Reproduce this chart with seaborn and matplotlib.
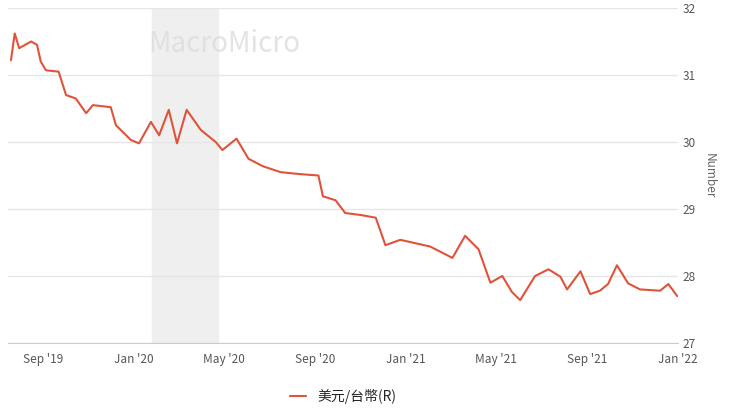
import pandas as pd
import seaborn as sns
import matplotlib.pyplot as plt

dates = ['2019-07-20', '2019-07-25', '2019-07-31', '2019-08-16', '2019-08-24', '2019-08-29',
         '2019-09-05', '2019-09-22', '2019-10-02', '2019-10-15', '2019-10-29', '2019-11-07',
         '2019-12-01', '2019-12-08', '2019-12-28', '2020-01-08', '2020-01-24', '2020-02-04',
         '2020-02-17', '2020-02-28', '2020-03-12', '2020-03-31', '2020-04-20', '2020-04-29',
         '2020-05-18', '2020-06-03', '2020-06-22', '2020-07-16', '2020-08-12', '2020-09-05',
         '2020-09-11', '2020-09-28', '2020-10-11', '2020-11-01', '2020-11-21', '2020-12-04',
         '2020-12-24', '2021-01-09', '2021-02-02', '2021-03-04', '2021-03-21', '2021-04-08',
         '2021-04-24', '2021-05-10', '2021-05-23', '2021-06-03', '2021-06-23', '2021-07-11',
         '2021-07-27', '2021-08-05', '2021-08-23', '2021-09-05', '2021-09-18', '2021-09-29',
         '2021-10-11', '2021-10-26', '2021-11-11', '2021-12-08', '2021-12-19', '2021-12-31']
usd_twd = [31.22, 31.62, 31.40, 31.50, 31.45, 31.20,
           31.07, 31.05, 30.70, 30.65, 30.43, 30.55,
           30.52, 30.25, 30.03, 29.98, 30.30, 30.10,
           30.48, 29.98, 30.48, 30.18, 30.00, 29.88,
           30.05, 29.75, 29.64, 29.55, 29.52, 29.50,
           29.19, 29.13, 28.94, 28.91, 28.87, 28.46,
           28.54, 28.50, 28.44, 28.27, 28.60, 28.40,
           27.90, 28.00, 27.76, 27.64, 28.00, 28.10,
           27.99, 27.80, 28.07, 27.73, 27.78, 27.88,
           28.16, 27.89, 27.80, 27.78, 27.88, 27.70]
recession = ('2020-01-25', '2020-04-23')
tick_dates = ['2019-09-01', '2020-01-01', '2020-05-01', '2020-09-01',
              '2021-01-01', '2021-05-01', '2021-09-01', '2022-01-01']
tick_labels = ["Sep '19", "Jan '20", "May '20", "Sep '20",
               "Jan '21", "May '21", "Sep '21", "Jan '22"]

df = pd.DataFrame({'date': pd.to_datetime(dates), 'value': usd_twd})

sns.set_style('white')
plt.rcParams['font.family'] = ['Noto Sans CJK TC', 'DejaVu Sans']

fig = plt.figure(figsize=(7.4, 4.15), dpi=100)
ax = fig.add_axes([8/740, 1 - 343/415, 670/740, 335/415])
ax.axvspan(pd.Timestamp(recession[0]), pd.Timestamp(recession[1]), color='#efefef', zorder=0)
sns.lineplot(data=df, x='date', y='value', ax=ax, color='#e0533a', linewidth=1.5,
             label='美元/台幣(R)')

ax.set_xlim(pd.Timestamp('2019-07-16'), pd.Timestamp('2022-01-01'))
ax.set_ylim(27, 32)
ax.yaxis.tick_right()
ax.yaxis.set_label_position('right')
ax.set_yticks([27, 28, 29, 30, 31, 32])
ax.grid(axis='y', color='#e6e6e6', linewidth=1)
ax.set_xticks(pd.to_datetime(tick_dates))
ax.set_xticklabels(tick_labels)
ax.tick_params(axis='both', labelsize=8.5, colors='#555555', length=0)
ax.tick_params(axis='x', length=4, color='#cccccc')
ax.set_xlabel('')
ax.set_ylabel('Number', color='#666666', fontsize=8.5, rotation=270, labelpad=14)
for s in ['top', 'left', 'right']:
    ax.spines[s].set_visible(False)
ax.spines['bottom'].set_color('#cccccc')

ax.text(0.21, 0.87, 'MacroMicro', transform=ax.transAxes, fontsize=20,
        color='#dddddd', alpha=0.8, zorder=1)

ax.legend(loc='upper center', bbox_to_anchor=(0.5, -0.1), frameon=False,
          fontsize=10, handlelength=1.2)

fig.savefig('out.png', dpi=100)
